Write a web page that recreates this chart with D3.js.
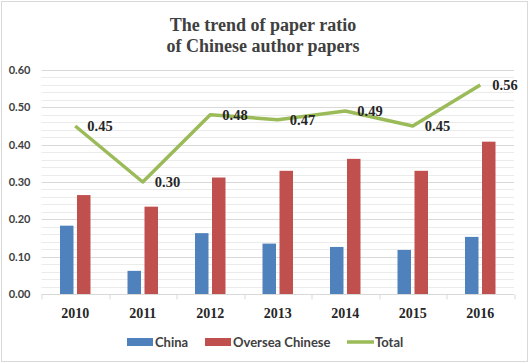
<!DOCTYPE html>
<html>
<head>
<meta charset="utf-8">
<script src="https://cdn.jsdelivr.net/npm/d3@7"></script>
<style>
  body { margin: 0; background: #fff; }
  .chart { width: 529px; height: 363px; }
</style>
</head>
<body>
<div class="chart"></div>
<script>
const years = ["2010", "2011", "2012", "2013", "2014", "2015", "2016"];
const china = [0.183, 0.062, 0.163, 0.135, 0.126, 0.118, 0.153];
const oversea = [0.265, 0.234, 0.312, 0.33, 0.362, 0.33, 0.408];
const total = [0.45, 0.3, 0.48, 0.467, 0.49, 0.45, 0.56];
const totalLabels = ["0.45", "0.30", "0.48", "0.47", "0.49", "0.45", "0.56"];
const yTicks = [0, 0.1, 0.2, 0.3, 0.4, 0.5, 0.6];

const W = 529, H = 363;
const margin = { top: 70, right: 15, bottom: 69, left: 41.5 };
const width = W - margin.left - margin.right;
const height = H - margin.top - margin.bottom;

const svg = d3.select(".chart").append("svg").attr("width", W).attr("height", H);

// outer frame
svg.append("rect")
  .attr("x", 1.5).attr("y", 1.5)
  .attr("width", W - 3).attr("height", H - 3)
  .attr("fill", "#fff").attr("stroke", "#d9d9d9");

// Title
svg.append("text")
  .attr("x", 263).attr("text-anchor", "middle")
  .attr("font-family", "Liberation Serif, serif")
  .attr("font-weight", "700").attr("font-size", "18px")
  .attr("fill", "#404040")
  .selectAll("tspan")
  .data(["The trend of paper ratio", "of Chinese author papers"])
  .enter().append("tspan")
  .attr("x", 263)
  .attr("y", (d, i) => 31 + i * 21)
  .text((d) => d);

const g = svg.append("g").attr("transform", `translate(${margin.left},${margin.top})`);

const x = d3.scaleBand().domain(years).range([0, width]);
const y = d3.scaleLinear().domain([0, 0.6]).range([height, 0]);

// Gridlines (minor every 0.02, major every 0.1)
const minor = d3.range(0.02, 0.6, 0.02).filter((v) => Math.round(v * 100) % 10 !== 0);
g.selectAll(".minor").data(minor).enter().append("line")
  .attr("x1", 0).attr("x2", width)
  .attr("y1", (d) => Math.round(y(d)) + 0.5).attr("y2", (d) => Math.round(y(d)) + 0.5)
  .attr("stroke", "#ebebeb");
g.selectAll(".major").data(yTicks.slice(1)).enter().append("line")
  .attr("x1", 0).attr("x2", width)
  .attr("y1", (d) => Math.round(y(d)) + 0.5).attr("y2", (d) => Math.round(y(d)) + 0.5)
  .attr("stroke", "#d9d9d9");

// Y tick labels
g.selectAll(".ylab").data(yTicks).enter().append("text")
  .attr("x", -11).attr("y", (d) => y(d)).attr("dy", "0.35em")
  .attr("text-anchor", "end")
  .attr("font-family", "Lato, sans-serif").attr("font-weight", "700")
  .attr("font-size", "11px").attr("fill", "#404040")
  .text((d) => d3.format(".2f")(d));

// Bars
const barW = 13.5, gap = 3.5;
g.selectAll(".china").data(china).enter().append("rect")
  .attr("x", (d, i) => x(years[i]) + x.bandwidth() / 2 - gap / 2 - barW)
  .attr("y", (d) => y(d)).attr("width", barW)
  .attr("height", (d) => height - y(d))
  .attr("fill", "#4F81BD");
g.selectAll(".oversea").data(oversea).enter().append("rect")
  .attr("x", (d, i) => x(years[i]) + x.bandwidth() / 2 + gap / 2)
  .attr("y", (d) => y(d)).attr("width", barW)
  .attr("height", (d) => height - y(d))
  .attr("fill", "#C0504D");

// X axis
const xAxis = g.append("g").attr("transform", `translate(0,${Math.round(height) + 0.5})`);
xAxis.append("line").attr("x1", 0).attr("x2", width).attr("stroke", "#d9d9d9");
xAxis.selectAll(".tick").data(d3.range(years.length + 1)).enter().append("line")
  .attr("x1", (i) => Math.round(i * x.bandwidth()) + 0.5)
  .attr("x2", (i) => Math.round(i * x.bandwidth()) + 0.5)
  .attr("y1", 0).attr("y2", 5).attr("stroke", "#d9d9d9");
xAxis.selectAll(".xlab").data(years).enter().append("text")
  .attr("x", (d) => x(d) + x.bandwidth() / 2).attr("y", 23)
  .attr("text-anchor", "middle")
  .attr("font-family", "Liberation Serif, serif").attr("font-weight", "700")
  .attr("font-size", "14px").attr("fill", "#262626")
  .text((d) => d);

// Total line
const line = d3.line()
  .x((d, i) => x(years[i]) + x.bandwidth() / 2)
  .y((d) => y(d));
g.append("path").datum(total)
  .attr("fill", "none").attr("stroke", "#9BBB59")
  .attr("stroke-width", 3.5).attr("stroke-linejoin", "round")
  .attr("d", line);

g.selectAll(".dlab").data(total).enter().append("text")
  .attr("x", (d, i) => x(years[i]) + x.bandwidth() / 2 + 12)
  .attr("y", (d) => y(d)).attr("dy", "0.35em")
  .attr("font-family", "Liberation Serif, serif").attr("font-weight", "700")
  .attr("font-size", "14.5px").attr("fill", "#262626")
  .text((d, i) => totalLabels[i]);

// Legend
const legend = svg.append("g").attr("font-family", "Lato, sans-serif")
  .attr("font-weight", "700").attr("font-size", "13px").attr("fill", "#404040");
const items = [
  { name: "China", color: "#4F81BD", x: 127, type: "rect" },
  { name: "Oversea Chinese", color: "#C0504D", x: 205, type: "rect" },
  { name: "Total", color: "#9BBB59", x: 347, type: "line" },
];
items.forEach((it) => {
  if (it.type === "rect") {
    legend.append("rect").attr("x", it.x).attr("y", 338).attr("width", 26).attr("height", 8).attr("fill", it.color);
  } else {
    legend.append("line").attr("x1", it.x).attr("x2", it.x + 27).attr("y1", 342).attr("y2", 342)
      .attr("stroke", it.color).attr("stroke-width", 3.5);
  }
  legend.append("text").attr("x", it.x + 28).attr("y", 342).attr("dy", "0.35em").text(it.name);
});
</script>
</body>
</html>
